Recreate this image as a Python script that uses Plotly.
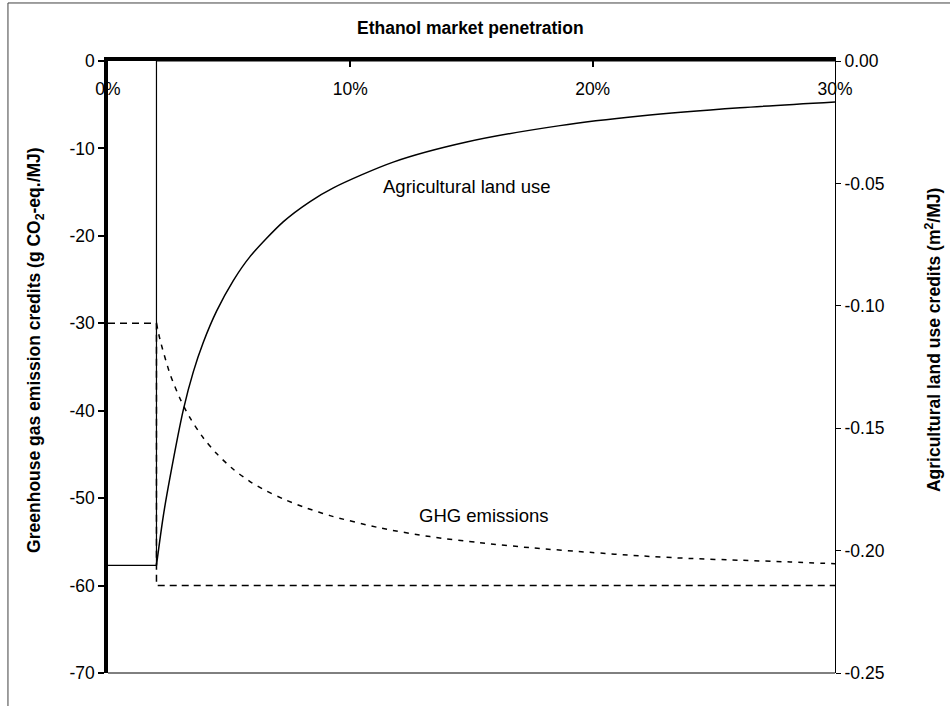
import plotly.graph_objects as go

# ---- data (x in % ethanol market penetration) ----
x_ticks = [0, 10, 20, 30]
x_ticktext = ["0%", "10%", "20%", "30%"]
ghg_ticks = [0, -10, -20, -30, -40, -50, -60, -70]
ghg_ticktext = ["0", "-10", "-20", "-30", "-40", "-50", "-60", "-70"]
land_ticks = [0, -0.05, -0.10, -0.15, -0.20, -0.25]
land_ticktext = ["0.00", "-0.05", "-0.10", "-0.15", "-0.20", "-0.25"]

# marginal (step) series
land_step_x = [0, 2, 2, 30]
land_step_y = [-0.206, -0.206, 0.0, 0.0]
ghg_step_x = [0, 2, 2, 30]
ghg_step_y = [-30, -30, -60, -60]

# average series
land_x = [2.0, 2.28, 2.56, 3.11, 3.52, 3.93, 4.48, 5.17, 5.86, 7.24, 8.34, 9.30,
          11.77, 14.80, 18.65, 21.96, 26.08, 30.0]
land_y = [-0.206, -0.186, -0.170, -0.1424, -0.1270, -0.1150, -0.1022, -0.0897, -0.0799,
          -0.0656, -0.0574, -0.0518, -0.0413, -0.0331, -0.0264, -0.0225, -0.0191, -0.0167]
ghg_x = [2.0, 2.15, 2.56, 2.97, 3.38, 3.93, 4.48, 5.17, 5.86, 6.55, 7.24, 8.06, 9.16,
         11.22, 13.29, 15.35, 17.55, 19.89, 21.96, 24.02, 26.08, 28.15, 30.0]
ghg_y = [-30.0, -31.9, -35.8, -38.6, -40.8, -43.1, -44.9, -46.7, -48.1, -49.2, -50.1,
         -51.0, -52.0, -53.4, -54.4, -55.1, -55.7, -56.2, -56.6, -56.9, -57.1, -57.3, -57.5]

FONT = "Liberation Sans, Arial, sans-serif"
TICKFONT = dict(family=FONT, size=17.5, color="black")

fig = go.Figure()
fig.add_trace(go.Scatter(x=land_step_x, y=land_step_y, yaxis="y2", mode="lines",
                         line=dict(color="black", width=1.2), cliponaxis=False,
                         showlegend=False))
fig.add_trace(go.Scatter(x=land_x, y=land_y, yaxis="y2", mode="lines",
                         line=dict(color="black", width=1.5, shape="spline", smoothing=0.8),
                         cliponaxis=False, showlegend=False))
fig.add_trace(go.Scatter(x=ghg_step_x, y=ghg_step_y, mode="lines",
                         line=dict(color="black", width=1.5, dash="7px,5px"),
                         cliponaxis=False, showlegend=False))
fig.add_trace(go.Scatter(x=ghg_x, y=ghg_y, mode="lines",
                         line=dict(color="black", width=1.5, dash="5px,6px",
                                   shape="spline", smoothing=0.8),
                         cliponaxis=False, showlegend=False))

fig.update_layout(
    width=950, height=706,
    margin=dict(l=108, r=115, t=61, b=33),
    paper_bgcolor="white", plot_bgcolor="white",
    font=dict(family=FONT, size=17.5, color="black"),
    showlegend=False,
    xaxis=dict(range=[0, 30], side="top", tickvals=x_ticks, ticktext=x_ticktext,
               ticks="inside", ticklen=6, tickwidth=1.5, tickcolor="black",
               ticklabelposition="inside", ticklabeloverflow="allow",
               ticklabelstandoff=16, tickfont=TICKFONT,
               showline=True, linecolor="black", linewidth=3.5, layer="above traces",
               showgrid=False, zeroline=False),
    yaxis=dict(range=[-70, 0], tickvals=ghg_ticks, ticktext=ghg_ticktext,
               ticks="outside", ticklen=6, tickwidth=1.5, tickcolor="black",
               tickfont=TICKFONT,
               showline=True, linecolor="black", linewidth=3.5, layer="above traces",
               showgrid=False, zeroline=False),
    yaxis2=dict(range=[-0.25, 0], overlaying="y", side="right",
                tickvals=land_ticks, ticktext=land_ticktext, tickfont=TICKFONT,
                ticks="outside", ticklen=5, tickwidth=1, tickcolor="black",
                showline=True, linecolor="black", linewidth=1,
                showgrid=False, zeroline=False),
    yaxis3=dict(range=[-0.25, 0], overlaying="y", side="right",
                tickvals=land_ticks, showticklabels=False,
                ticks="inside", ticklen=5, tickwidth=1, tickcolor="black",
                showline=False, showgrid=False, zeroline=False),
)

# bottom border of plot area
fig.add_shape(type="line", xref="x domain", yref="y domain", x0=0, x1=1, y0=0, y1=0,
              line=dict(color="black", width=1))
# outer chart frame
fig.add_shape(type="rect", xref="paper", yref="paper",
              x0=-0.1376, x1=1.16, y0=-0.07, y1=1.0948,
              line=dict(color="#404040", width=1), layer="below")

anns = [
    dict(text="<b>Ethanol market penetration</b>", x=0.4993, y=1.054, xref="paper",
         yref="paper", xanchor="center", yanchor="middle", showarrow=False,
         font=dict(size=17.5)),
    dict(text="<b>Greenhouse gas emission credits (g CO<sub>2</sub>-eq./MJ)</b>",
         x=-0.099, y=0.528, xref="paper", yref="paper", xanchor="center",
         yanchor="middle", showarrow=False, textangle=-90, font=dict(size=17.5)),
    dict(text="<b>Agricultural land use credits (m<sup>2</sup>/MJ)</b>",
         x=1.1348, y=0.544, xref="paper", yref="paper", xanchor="center",
         yanchor="middle", showarrow=False, textangle=-90, font=dict(size=17.5)),
    dict(text="Agricultural land use", x=14.82, y=-14.3, xref="x", yref="y",
         xanchor="center", yanchor="middle", showarrow=False, font=dict(size=18.5)),
    dict(text="GHG emissions", x=15.5, y=-52.0, xref="x", yref="y",
         xanchor="center", yanchor="middle", showarrow=False, font=dict(size=18.5)),
]
fig.update_layout(annotations=anns)

fig.write_html("out.html")
